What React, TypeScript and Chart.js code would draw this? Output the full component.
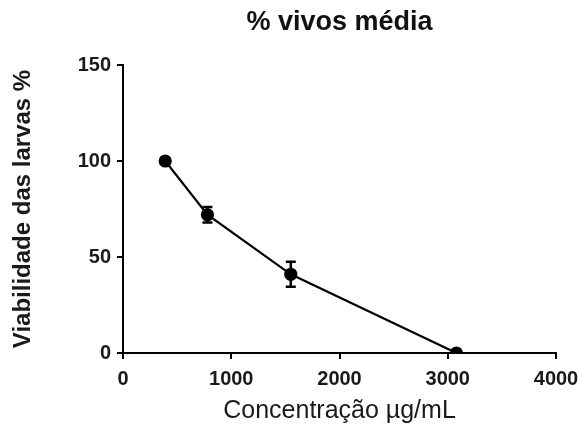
import React, { useEffect, useRef } from "react";
import { Chart, registerables } from "chart.js";

Chart.register(...registerables);

const concentrations = [390, 780, 1550, 3080];
const viability = [100, 72, 41, 0];
const errors = [0, 4, 6.5, 0];
const xTicks = [0, 1000, 2000, 3000, 4000];
const yTicks = [0, 50, 100, 150];
const chartTitle = "% vivos média";
const xTitle = "Concentração µg/mL";
const yTitle = "Viabilidade das larvas %";

const FONT = "'Liberation Sans', Arial, Helvetica, sans-serif";

const errorBarPlugin = {
  id: "errorBars",
  afterDatasetsDraw(chart: any) {
    const { ctx, scales } = chart;
    const xs = scales.x;
    const ys = scales.y;
    ctx.save();
    ctx.strokeStyle = "#000";
    ctx.lineWidth = 2.5;
    concentrations.forEach((c, i) => {
      const e = errors[i];
      if (!e) return;
      const px = xs.getPixelForValue(c);
      const top = ys.getPixelForValue(viability[i] + e);
      const bot = ys.getPixelForValue(viability[i] - e);
      ctx.beginPath();
      ctx.moveTo(px, top);
      ctx.lineTo(px, bot);
      ctx.moveTo(px - 5, top);
      ctx.lineTo(px + 5, top);
      ctx.moveTo(px - 5, bot);
      ctx.lineTo(px + 5, bot);
      ctx.stroke();
    });
    ctx.restore();
  },
};

const titlePlugin = {
  id: "centeredTitle",
  afterDraw(chart: any) {
    const { ctx, chartArea } = chart;
    ctx.save();
    ctx.font = `bold 27px ${FONT}`;
    ctx.fillStyle = "#111";
    ctx.textAlign = "center";
    ctx.textBaseline = "middle";
    ctx.fillText(chartTitle, (chartArea.left + chartArea.right) / 2, 23);
    ctx.restore();
  },
};

export default function App() {
  const ref = useRef<HTMLCanvasElement>(null);

  useEffect(() => {
    if (!ref.current) return;
    const chart = new Chart(ref.current, {
      type: "scatter",
      data: {
        datasets: [
          {
            data: concentrations.map((c, i) => ({ x: c, y: viability[i] })),
            showLine: true,
            borderColor: "#000",
            backgroundColor: "#000",
            borderWidth: 2.2,
            pointRadius: 5.5,
            pointBackgroundColor: "#000",
            pointBorderColor: "#000",
          },
        ],
      },
      plugins: [errorBarPlugin, titlePlugin],
      options: {
        responsive: false,
        animation: false,
        layout: { padding: { top: 65, right: 23, left: 0, bottom: 0 } },
        plugins: {
          legend: { display: false },
          tooltip: { enabled: false },
          title: { display: false },
        },
        scales: {
          x: {
            type: "linear",
            min: 0,
            max: 4000,
            afterFit(scale: any) {
              scale.height = 73;
              scale.paddingLeft = 0;
              scale.paddingRight = 0;
            },
            afterBuildTicks(scale: any) {
              scale.ticks = xTicks.map((v) => ({ value: v }));
            },
            border: { display: true, color: "#000", width: 2 },
            grid: {
              drawOnChartArea: false,
              drawTicks: true,
              tickLength: 6,
              color: "#000",
              lineWidth: 2,
            },
            ticks: {
              color: "#1a1a1a",
              font: { family: FONT, size: 20, weight: "bold" },
              padding: 8,
              maxRotation: 0,
              callback: (v: any) => String(v),
            },
            title: {
              display: true,
              text: xTitle,
              color: "#1a1a1a",
              font: { family: FONT, size: 25 },
              padding: { top: 0, bottom: 0 },
            },
          },
          y: {
            type: "linear",
            min: 0,
            max: 150,
            afterFit(scale: any) {
              scale.width = 123;
              scale.paddingTop = 0;
              scale.paddingBottom = 0;
            },
            afterBuildTicks(scale: any) {
              scale.ticks = yTicks.map((v) => ({ value: v }));
            },
            border: { display: true, color: "#000", width: 2 },
            grid: {
              drawOnChartArea: false,
              drawTicks: true,
              tickLength: 6,
              color: "#000",
              lineWidth: 2,
            },
            ticks: {
              color: "#1a1a1a",
              font: { family: FONT, size: 20, weight: "bold" },
              padding: 6,
              callback: (v: any) => String(v),
            },
            title: {
              display: true,
              text: yTitle,
              color: "#1a1a1a",
              font: { family: FONT, size: 24, weight: "bold" },
              padding: { top: 9, bottom: 0 },
            },
          },
        },
      },
    });
    return () => chart.destroy();
  }, []);

  return (
    <div style={{ position: "fixed", left: 0, top: 0, width: 579, height: 426, background: "#fff" }}>
      <canvas ref={ref} width={579} height={426} style={{ width: 579, height: 426 }} />
    </div>
  );
}
